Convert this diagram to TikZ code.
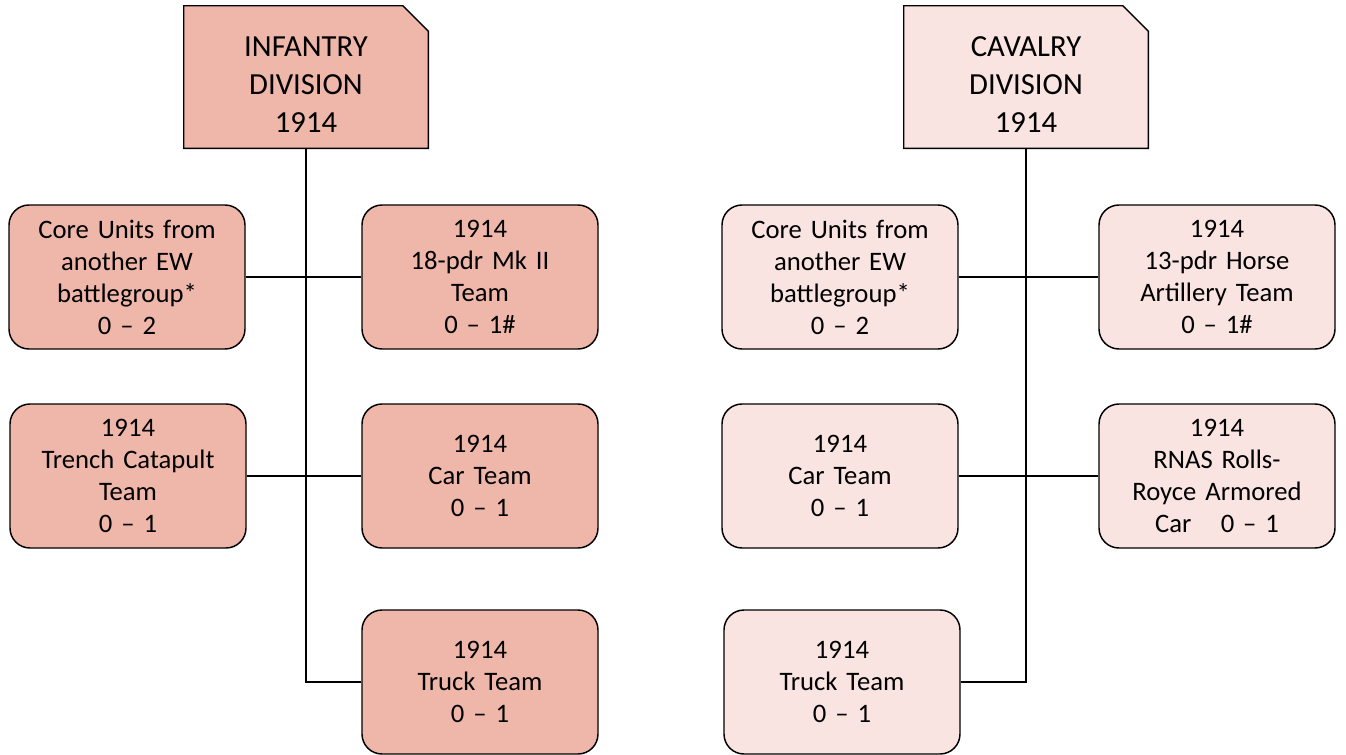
\documentclass[tikz,border=0pt]{standalone}
\usepackage{fontspec}
\setmainfont{Carlito}
\usetikzlibrary{positioning, backgrounds}

\definecolor{infred}{RGB}{239,183,170}
\definecolor{cavpink}{RGB}{249,228,225}

\begin{document}
\begin{tikzpicture}[
    x=0.75pt, y=-0.75pt,
    header/.style={rectangle, minimum width=183pt, minimum height=106.5pt, inner sep=0pt},
    headtext/.style={align=center, inner sep=0pt, font=\fontsize{23}{28.5}\selectfont},
    headbox/.style={draw=black, line width=1.1pt},
    unit/.style={rounded corners=15pt, draw=black, line width=1.1pt,
        minimum width=177pt, minimum height=108pt, inner sep=0pt,
        text width=170pt, align=center, font=\fontsize{20}{24}\selectfont},
    link/.style={draw=black, line width=1.1pt}
]
\useasboundingbox (0,0) rectangle (1346,754);

% ===== INFANTRY LEFT =====
\node[header] (inf) at (306,77) {};
\node[headtext] (inftext) at (306,85) {INFANTRY\\DIVISION\\1914};
\begin{scope}[on background layer]
\filldraw[headbox, fill=infred] (inf.south west) -- (inf.north west) -- ([xshift=-19pt]inf.north east)
    -- ([yshift=-19pt]inf.north east) -- (inf.south east) -- cycle;
\end{scope}

\node[unit, fill=infred] (icore)   at (127,277) {Core Units from\\another EW\\battlegroup*\\0 – 2};
\node[unit, fill=infred] (igun)    at (480,277) {1914\\18-pdr Mk II\\Team\\0 – 1\#};
\node[unit, fill=infred] (itrench) at (128,476) {1914\\Trench Catapult\\Team\\0 – 1};
\node[unit, fill=infred] (icar)    at (480,476) {1914\\Car Team\\0 – 1};
\node[unit, fill=infred] (itruck)  at (480,682) {1914\\Truck Team\\0 – 1};

% trunk and branches
\draw[link] (inf.south) |- (itruck.west);
\draw[link] (icore.east) -- (igun.west);
\draw[link] (itrench.east) -- (icar.west);

% ===== CAVALRY RIGHT =====
\node[header] (cav) at (1026,77) {};
\node[headtext] (cavtext) at (1026,85) {CAVALRY\\DIVISION\\1914};
\begin{scope}[on background layer]
\filldraw[headbox, fill=cavpink] (cav.south west) -- (cav.north west) -- ([xshift=-19pt]cav.north east)
    -- ([yshift=-19pt]cav.north east) -- (cav.south east) -- cycle;
\end{scope}

\node[unit, fill=cavpink] (ccore)  at (840,277)  {Core Units from\\another EW\\battlegroup*\\0 – 2};
\node[unit, fill=cavpink] (cgun)   at (1217,277) {1914\\13-pdr Horse\\Artillery Team\\0 – 1\#};
\node[unit, fill=cavpink] (ccar)   at (840,476)  {1914\\Car Team\\0 – 1};
\node[unit, fill=cavpink] (crnas)  at (1217,476) {1914\\RNAS Rolls-\\Royce Armored\\Car\hspace{1.1em}0 – 1};
\node[unit, fill=cavpink] (ctruck) at (842,682)  {1914\\Truck Team\\0 – 1};

% trunk and branches
\draw[link] (cav.south) |- (ctruck.east);
\draw[link] (ccore.east) -- (cgun.west);
\draw[link] (ccar.east) -- (crnas.west);

\end{tikzpicture}
\end{document}
